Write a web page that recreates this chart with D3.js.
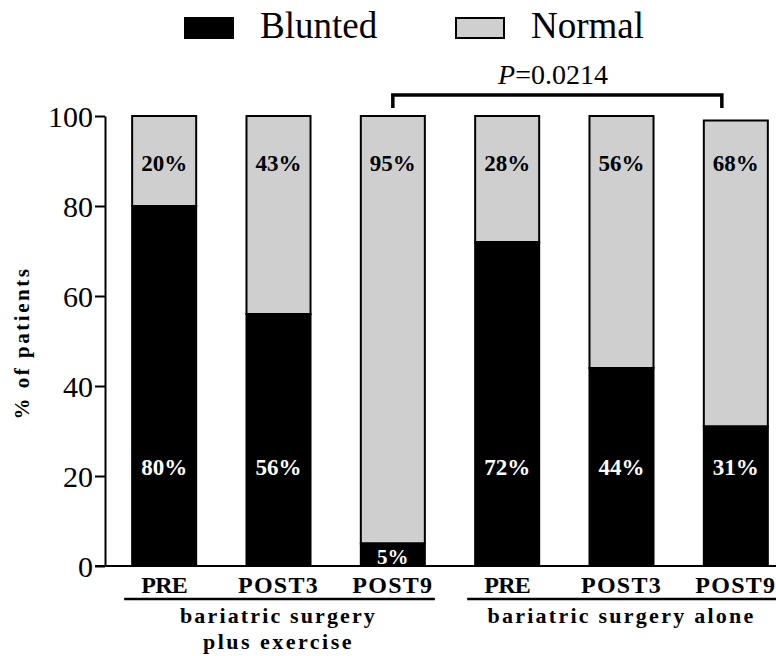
<!DOCTYPE html>
<html><head><meta charset="utf-8">
<script src="https://cdn.jsdelivr.net/npm/d3@7"></script>
<style>body{margin:0;background:#fff}svg{display:block}svg text{font-family:"Liberation Serif","Times New Roman",serif !important}</style>
</head><body><svg id="c" width="776" height="656"></svg>
<script>
const categories = ["PRE","POST3","POST9","PRE","POST3","POST9"];
const blunted = [80,56,5,72,44,31];
const normal = [20,44,95,28,56,68];
const bluntedLabels = ["80%","56%","5%","72%","44%","31%"];
const normalLabels = ["20%","43%","95%","28%","56%","68%"];
const yTicks = [0,20,40,60,80,100];
const groupNames = [["bariatric surgery","plus exercise"],["bariatric surgery alone"]];
const seriesNames = ["Blunted","Normal"];
const pValue = "=0.0214";

const svg = d3.select("#c");
const FF = "Liberation Serif";
const gray = "#cfcfcf";
const y = d3.scaleLinear().domain([0,100]).range([566,116]);
const x = d3.scaleBand().domain(d3.range(6)).range([107,793]).paddingInner(0.44).paddingOuter(0.22);

function fit(t, w){
  const n = t.text().length;
  const cur = t.node().getComputedTextLength();
  t.attr("letter-spacing", (w-cur)/(n));
  return t;
}
function txt(px,py,s,size,opts={}){
  const t = svg.append("text").attr("x",px).attr("y",py).attr("font-family",FF).attr("font-size",size)
    .attr("text-anchor",opts.anchor||"middle").attr("font-weight",opts.bold?"bold":"normal").attr("fill",opts.fill||"#000").text(s);
  return t;
}

// bars
const bw = x.bandwidth();
d3.range(6).forEach(i=>{
  const x0 = x(i);
  svg.append("rect").attr("x",x0).attr("y",y(blunted[i]+normal[i])).attr("width",bw)
    .attr("height",y(blunted[i])-y(blunted[i]+normal[i])).attr("fill",gray).attr("stroke","#000").attr("stroke-width",2);
  svg.append("rect").attr("x",x0).attr("y",y(blunted[i])).attr("width",bw)
    .attr("height",y(0)-y(blunted[i])).attr("fill","#000").attr("stroke","#000").attr("stroke-width",2);
  txt(x0+bw/2, y(89.5)+8, normalLabels[i], 23, {bold:true});
  const big = blunted[i] > 20;
  txt(x0+bw/2, big ? y(22)+8 : y(blunted[i]/2)+9, bluntedLabels[i], big?23:21, {bold:true, fill:"#fff"});
});

// y axis
const ya = svg.append("g").attr("transform","translate(105,0)")
  .call(d3.axisLeft(y).tickValues(yTicks).tickSize(10).tickSizeOuter(0));
ya.attr("font-family",FF);
ya.select(".domain").attr("stroke","#000").attr("stroke-width",2);
ya.selectAll(".tick line").attr("stroke","#000").attr("stroke-width",2);
ya.selectAll(".tick text").attr("font-family",FF).attr("font-size",30).attr("fill","#000").attr("x",-12).attr("dy","0.35em");
// baseline
svg.append("line").attr("x1",95).attr("x2",776).attr("y1",y(0)).attr("y2",y(0)).attr("stroke","#000").attr("stroke-width",2);

// y title
const yt = svg.append("text").attr("transform","translate(29,343) rotate(-90)").attr("text-anchor","middle")
  .attr("font-family",FF).attr("font-size",21).attr("font-weight","bold").text("% of patients");
fit(yt,153);

// x labels
const xw = [46,81,81,46,81,81];
d3.range(6).forEach(i=>{
  fit(txt(x(i)+bw/2, 593, categories[i], 24, {bold:true}), xw[i]);
});
// group lines
const gExt = [[x(0)-8, x(2)+bw+10],[x(3)-8, 776]];
gExt.forEach(e=>{
  svg.append("line").attr("x1",e[0]).attr("x2",e[1]).attr("y1",599).attr("y2",599).attr("stroke","#000").attr("stroke-width",2.5);
});
const gCenters = [(x(0)+x(2)+bw)/2, (x(3)+x(5)+bw)/2];
const gw = [[197,151],[268]];
groupNames.forEach((lines,gi)=>{
  lines.forEach((l,li)=>{
    fit(txt(gCenters[gi], 623+li*26, l, 22, {bold:true}), gw[gi][li]);
  });
});

// bracket
const bx1 = x(2)+bw/2, bx2 = x(5)+bw/2-14;
svg.append("path").attr("d",`M${bx1},108V95H${bx2}V108`).attr("fill","none").attr("stroke","#000").attr("stroke-width",3.5);
const pt = txt(553, 84, "", 28);
pt.append("tspan").attr("font-style","italic").text("P");
pt.append("tspan").text(pValue);

// legend
const leg = [{x:185, fill:"#000"},{x:456, fill:gray}];
leg.forEach((l,i)=>{
  svg.append("rect").attr("x",l.x).attr("y",18).attr("width",48).attr("height",20).attr("fill",l.fill).attr("stroke","#000").attr("stroke-width",2);
  txt(l.x+75, 38, seriesNames[i], 37, {anchor:"start"});
});
</script></body></html>
